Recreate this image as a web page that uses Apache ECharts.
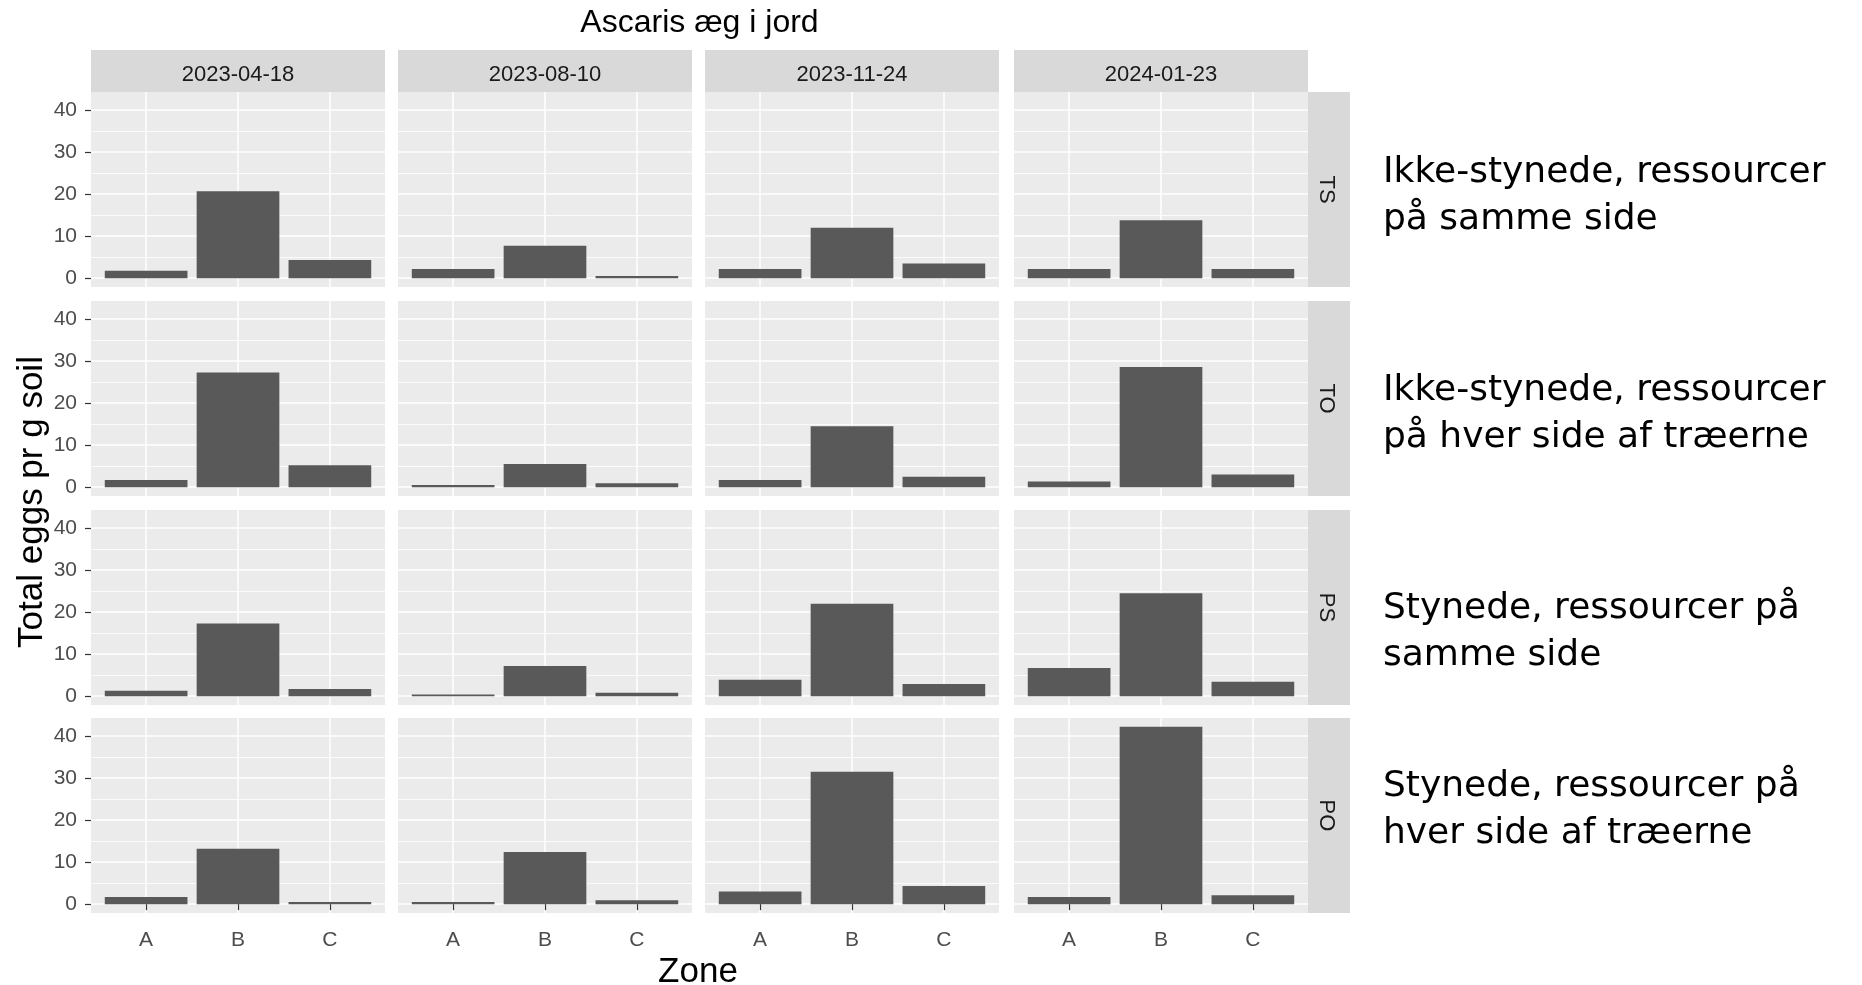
<!DOCTYPE html>
<html>
<head>
<meta charset="utf-8">
<script src="https://cdn.jsdelivr.net/npm/echarts@6/dist/echarts.min.js"></script>
<style>
  html, body { margin: 0; padding: 0; background: #fff; }
  #chart { width: 1862px; height: 985px; }
</style>
</head>
<body>
<div id="chart"></div>
<script>
// ---- data ----
const chartTitle = 'Ascaris æg i jord';
const yAxisTitle = 'Total eggs pr g soil';
const xAxisTitle = 'Zone';
const dates = ['2023-04-18', '2023-08-10', '2023-11-24', '2024-01-23'];
const treatments = ['TS', 'TO', 'PS', 'PO'];
const zones = ['A', 'B', 'C'];
const yTicks = [0, 10, 20, 30, 40];
// values per date (A, B, C)
const valuesTS = [[1.75, 20.7, 4.3], [2.2, 7.7, 0.5], [2.2, 12.0, 3.5], [2.2, 13.8, 2.2]];
const valuesTO = [[1.7, 27.3, 5.2], [0.5, 5.5, 0.9], [1.7, 14.5, 2.5], [1.35, 28.6, 3.0]];
const valuesPS = [[1.3, 17.3, 1.7], [0.4, 7.2, 0.8], [3.9, 22.0, 2.9], [6.7, 24.5, 3.4]];
const valuesPO = [[1.7, 13.2, 0.5], [0.5, 12.4, 0.9], [3.0, 31.5, 4.3], [1.7, 42.2, 2.1]];
const rowNotes = [
  'Ikke-stynede, ressourcer\npå samme side',
  'Ikke-stynede, ressourcer\npå hver side af træerne',
  'Stynede, ressourcer på\nsamme side',
  'Stynede, ressourcer på\nhver side af træerne'
];

// ---- layout ----
const rowValues = [valuesTS, valuesTO, valuesPS, valuesPO];
const FONT = '"Liberation Sans", Arial, sans-serif';
const NOTE_FONT = '"DejaVu Sans", "Noto Sans", sans-serif';
const colLeft = [91, 398, 705, 1014];
const rowTop = [92, 301, 510, 718];
const PW = 294, PH = 195;
const stripTop = 50, stripH = 42;
const rStripX = 1308, rStripW = 42;
const unit = PW / 3.2; // ggplot discrete expansion 0.6 each side
const noteCenters = [196, 414, 632, 810];
const noteX = 1383;

let maxV = 0;
rowValues.forEach(r => r.forEach(d => d.forEach(v => { if (v > maxV) maxV = v; })));
const yMin = -0.05 * maxV, yMax = maxV * 1.05;

const grids = [], xAxes = [], yAxes = [], series = [];
let k = 0;
for (let r = 0; r < 4; r++) {
  for (let c = 0; c < 4; c++) {
    const left = colLeft[c], top = rowTop[r];
    // outer panel grid: background + horizontal gridlines + y axis
    grids.push({ left: left, top: top, width: PW, height: PH, show: true,
      backgroundColor: '#EBEBEB', borderWidth: 0, containLabel: false, outerBoundsMode: 'none' });
    xAxes.push({ gridIndex: k, type: 'value', min: 0, max: 1, show: false });
    yAxes.push({ gridIndex: k, type: 'value', min: yMin, max: yMax,
      axisLine: { show: false },
      axisTick: { show: c === 0, length: 6, customValues: yTicks, lineStyle: { color: '#333333', width: 1.2 } },
      axisLabel: { show: c === 0, customValues: yTicks, margin: 14, fontSize: 21, color: '#4D4D4D', fontFamily: FONT,
        padding: [3, 0, 0, 0],
        formatter: v => (yTicks.indexOf(Math.round(v * 1000) / 1000) >= 0 ? String(v) : '') },
      splitLine: { show: true, lineStyle: { color: '#FFFFFF', width: 1.5 } },
      minorTick: { show: false, splitNumber: 2 },
      minorSplitLine: { show: true, lineStyle: { color: '#FFFFFF', width: 0.8 } }
    });
    k++;
    // inner grid: category positions at ggplot centers
    grids.push({ left: left + 0.6 * unit, top: top, width: PW - 1.2 * unit, height: PH, show: false,
      containLabel: false, outerBoundsMode: 'none' });
    xAxes.push({ gridIndex: k, type: 'category', data: zones, boundaryGap: false,
      axisLine: { show: false },
      axisTick: { show: r === 3, length: 6, lineStyle: { color: '#333333', width: 1.2 } },
      axisLabel: { show: r === 3, margin: 17, fontSize: 21, color: '#4D4D4D', fontFamily: FONT, interval: 0 },
      splitLine: { show: true, interval: 0, lineStyle: { color: '#FFFFFF', width: 1.5 } }
    });
    yAxes.push({ gridIndex: k, type: 'value', min: yMin, max: yMax, show: false });
    series.push({ type: 'bar', xAxisIndex: k, yAxisIndex: k, data: rowValues[r][c],
      barWidth: '90%', clip: false, silent: true,
      itemStyle: { color: '#595959' } });
    k++;
  }
}

const graphics = [];
// top strips
dates.forEach((d, c) => {
  graphics.push({ type: 'rect', silent: true, shape: { x: colLeft[c], y: stripTop, width: PW, height: stripH },
    style: { fill: '#D9D9D9' } });
  graphics.push({ type: 'text', silent: true, x: colLeft[c] + PW / 2, y: stripTop + stripH / 2 + 4,
    style: { text: d, fill: '#1A1A1A', font: '22px ' + FONT, align: 'center', verticalAlign: 'middle' } });
});
// right strips
treatments.forEach((t, r) => {
  graphics.push({ type: 'rect', silent: true, shape: { x: rStripX, y: rowTop[r], width: rStripW, height: PH },
    style: { fill: '#D9D9D9' } });
  graphics.push({ type: 'text', silent: true, x: rStripX + rStripW / 2 - 3, y: rowTop[r] + PH / 2, rotation: -Math.PI / 2,
    style: { text: t, fill: '#1A1A1A', font: '22px ' + FONT, align: 'center', verticalAlign: 'middle' } });
});
// title
graphics.push({ type: 'text', silent: true, x: colLeft[0] + (colLeft[3] + PW - colLeft[0]) / 2, y: 23,
  style: { text: chartTitle, fill: '#000', font: '32px ' + FONT, align: 'center', verticalAlign: 'middle' } });
// axis titles
graphics.push({ type: 'text', silent: true, x: 32, y: 502, rotation: Math.PI / 2,
  style: { text: yAxisTitle, fill: '#000', font: '35px ' + FONT, align: 'center', verticalAlign: 'middle' } });
graphics.push({ type: 'text', silent: true, x: 698, y: 972,
  style: { text: xAxisTitle, fill: '#000', font: '35px ' + FONT, align: 'center', verticalAlign: 'middle' } });
// row notes
rowNotes.forEach((n, r) => {
  graphics.push({ type: 'text', silent: true, x: noteX, y: noteCenters[r],
    style: { text: n, fill: '#000', font: '36px ' + NOTE_FONT, lineHeight: 47, align: 'left', verticalAlign: 'middle' } });
});

const chart = echarts.init(document.getElementById('chart'), null, { renderer: 'canvas' });
chart.setOption({
  animation: false,
  backgroundColor: '#FFFFFF',
  grid: grids,
  xAxis: xAxes,
  yAxis: yAxes,
  series: series,
  graphic: { elements: graphics }
});
</script>
</body>
</html>
